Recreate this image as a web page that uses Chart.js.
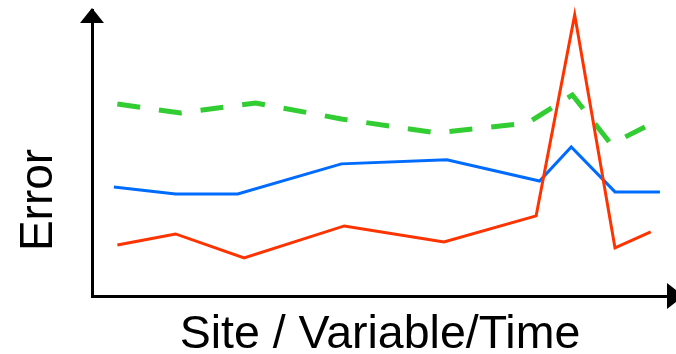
<!DOCTYPE html>
<html>
<head>
<meta charset="utf-8">
<script src="https://cdn.jsdelivr.net/npm/chart.js@4/dist/chart.umd.min.js"></script>
<style>
  html, body { margin: 0; padding: 0; background: #fff; }
  #wrap { width: 676px; height: 354px; }
</style>
</head>
<body>
<div id="wrap"><canvas id="c" width="676" height="354"></canvas></div>
<script>
// Data (x: position along site/variable/time axis, 0-100; y: error, 0-100)
const blueX  = [3.8, 14.5, 25.3, 43.3, 61.6, 77.7, 83.2, 90.8, 98.6];
const blueY  = [38.1, 35.7, 35.7, 46.2, 47.6, 40.2, 52.1, 36.4, 36.4];
const redX   = [4.4, 14.5, 26.4, 43.8, 61.1, 77.1, 83.8, 90.8, 97.0];
const redY   = [17.8, 21.7, 13.3, 24.5, 18.9, 28.0, 98.3, 16.8, 22.4];
const greenX = [4.4, 15.4, 28.4, 43.3, 59.9, 75.6, 83.4, 90.1, 96.0];
const greenY = [67.1, 64.0, 67.5, 61.9, 57.0, 60.5, 70.3, 53.1, 59.1];
const xTitle = 'Site / Variable/Time';
const yTitle = 'Error';

function pts(xs, ys) { return xs.map((x, i) => ({ x: x, y: ys[i] })); }

const fontFamily = "'Liberation Sans', Arial, sans-serif";

const decor = {
  id: 'decor',
  afterDraw(chart) {
    const ctx = chart.ctx, a = chart.chartArea;
    ctx.save();
    ctx.fillStyle = '#000';
    // y-axis arrow head
    ctx.beginPath();
    ctx.moveTo(a.left, 8);
    ctx.lineTo(a.left - 12, 23);
    ctx.lineTo(a.left + 12, 23);
    ctx.closePath();
    ctx.fill();
    // x-axis arrow head
    ctx.beginPath();
    ctx.moveTo(684, a.bottom);
    ctx.lineTo(667, a.bottom - 13);
    ctx.lineTo(667, a.bottom + 13);
    ctx.closePath();
    ctx.fill();
    // y-axis title
    ctx.translate(52, 200);
    ctx.rotate(-Math.PI / 2);
    ctx.font = '46px ' + fontFamily;
    ctx.textAlign = 'center';
    ctx.textBaseline = 'alphabetic';
    ctx.fillText(yTitle, 0, 0);
    ctx.restore();
  }
};

new Chart(document.getElementById('c'), {
  type: 'line',
  data: {
    datasets: [
      { label: 'red', data: pts(redX, redY), borderColor: 'rgb(255,51,0)', borderWidth: 3, pointRadius: 0, tension: 0, fill: false, clip: false, order: 1 },
      { label: 'blue', data: pts(blueX, blueY), borderColor: 'rgb(0,108,255)', borderWidth: 3, pointRadius: 0, tension: 0, fill: false, clip: false, order: 2 },
      { label: 'green', data: pts(greenX, greenY), borderColor: 'rgb(50,205,50)', borderWidth: 5, borderDash: [23, 19], borderCapStyle: 'butt', pointRadius: 0, tension: 0, fill: false, clip: false, order: 3 }
    ]
  },
  options: {
    responsive: false,
    animation: false,
    events: [],
    layout: { padding: { top: 10, right: 8, left: 92, bottom: 0 } },
    plugins: { legend: { display: false }, tooltip: { enabled: false } },
    scales: {
      x: {
        type: 'linear', min: 0, max: 100,
        ticks: { display: false },
        grid: { display: false, drawTicks: false },
        border: { display: true, color: '#000', width: 3 },
        title: { display: true, text: xTitle, color: '#000', font: { family: fontFamily, size: 46.5, lineHeight: 1 }, padding: { top: 15.75, bottom: -4.25 } }
      },
      y: {
        type: 'linear', min: 0, max: 100,
        ticks: { display: false },
        grid: { display: false, drawTicks: false },
        border: { display: true, color: '#000', width: 3 },
        title: { display: false }
      }
    }
  },
  plugins: [decor]
});
</script>
</body>
</html>
